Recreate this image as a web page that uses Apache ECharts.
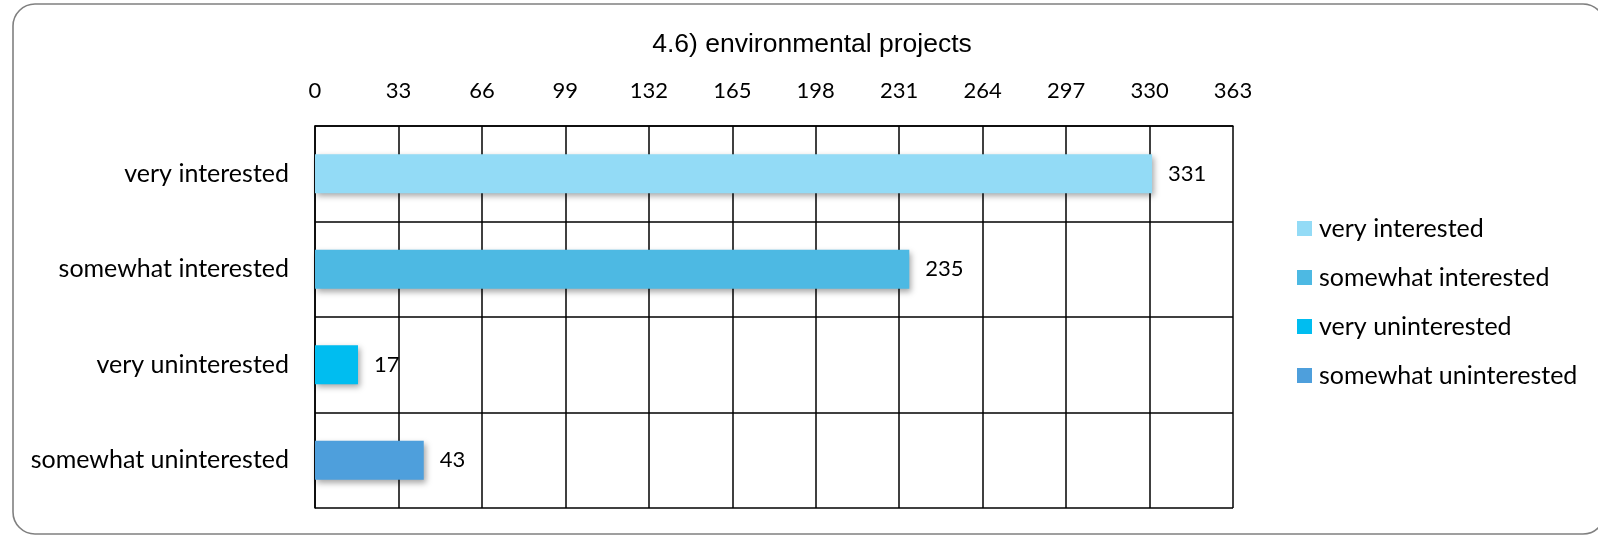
<!DOCTYPE html>
<html>
<head>
<meta charset="utf-8">
<script src="https://cdn.jsdelivr.net/npm/echarts@6/dist/echarts.min.js"></script>
<style>
html,body{margin:0;padding:0;background:#fff;}
#c{width:1598px;height:535px;}
</style>
</head>
<body>
<div id="c"></div>
<script>
const titleText = '4.6) environmental projects';
const categories = ['very interested', 'somewhat interested', 'very uninterested', 'somewhat uninterested'];
const values = [331, 235, 17, 43];
const colors = ['#93DBF6', '#4DB9E3', '#00BDF0', '#4E9FDC'];
const axisMin = 0, axisMax = 363, axisStep = 33;

const chart = echarts.init(document.getElementById('c'));
const font = 'Lato, "Open Sans", sans-serif';

const series = categories.map((name, i) => ({
  name: name,
  type: 'bar',
  stack: 'all',
  barWidth: 39,
  data: categories.map((c, j) => j === i ? values[i] : '-'),
  itemStyle: {
    color: colors[i],
    shadowColor: 'rgba(0,0,0,0.35)',
    shadowBlur: 6,
    shadowOffsetX: 2,
    shadowOffsetY: 3
  },
  label: {
    show: true,
    position: 'right',
    distance: 16,
    color: '#000',
    fontFamily: font,
    fontSize: 22
  }
}));

chart.setOption({
  animation: false,
  backgroundColor: '#fff',
  graphic: [{
    type: 'rect',
    shape: { x: 13, y: 4, width: 1592, height: 530, r: 22 },
    style: { fill: 'none', stroke: '#808080', lineWidth: 1.6 },
    silent: true
  }],
  title: {
    text: titleText,
    left: 807, top: 26, textAlign: 'center',
    textStyle: { fontFamily: '"Liberation Sans", Arial, sans-serif', fontSize: 26.5, fontWeight: 'normal', color: '#000' }
  },
  legend: {
    orient: 'vertical',
    left: 1292, top: 211,
    itemWidth: 15, itemHeight: 15, itemGap: 24,
    icon: 'rect',
    textStyle: { fontFamily: font, fontSize: 25, color: '#000', padding: [0, 0, 0, 2] },
    data: categories
  },
  grid: { left: 315, right: 365, top: 126, bottom: 27, containLabel: false },
  xAxis: {
    type: 'value', position: 'top',
    min: axisMin, max: axisMax, interval: axisStep,
    axisLine: { show: true, lineStyle: { color: '#000', width: 1.5 } },
    axisTick: { show: false },
    axisLabel: { color: '#000', fontFamily: font, fontSize: 22, margin: 24 },
    splitLine: { show: true, lineStyle: { color: '#000', width: 1.5 } }
  },
  yAxis: {
    type: 'category', inverse: true, data: categories,
    axisLine: { show: true, lineStyle: { color: '#000', width: 1.5 } },
    axisTick: { show: false },
    axisLabel: { color: '#000', fontFamily: font, fontSize: 25, margin: 26 },
    splitLine: { show: true, lineStyle: { color: '#000', width: 1.5 } }
  },
  series: series
});
</script>
</body>
</html>
